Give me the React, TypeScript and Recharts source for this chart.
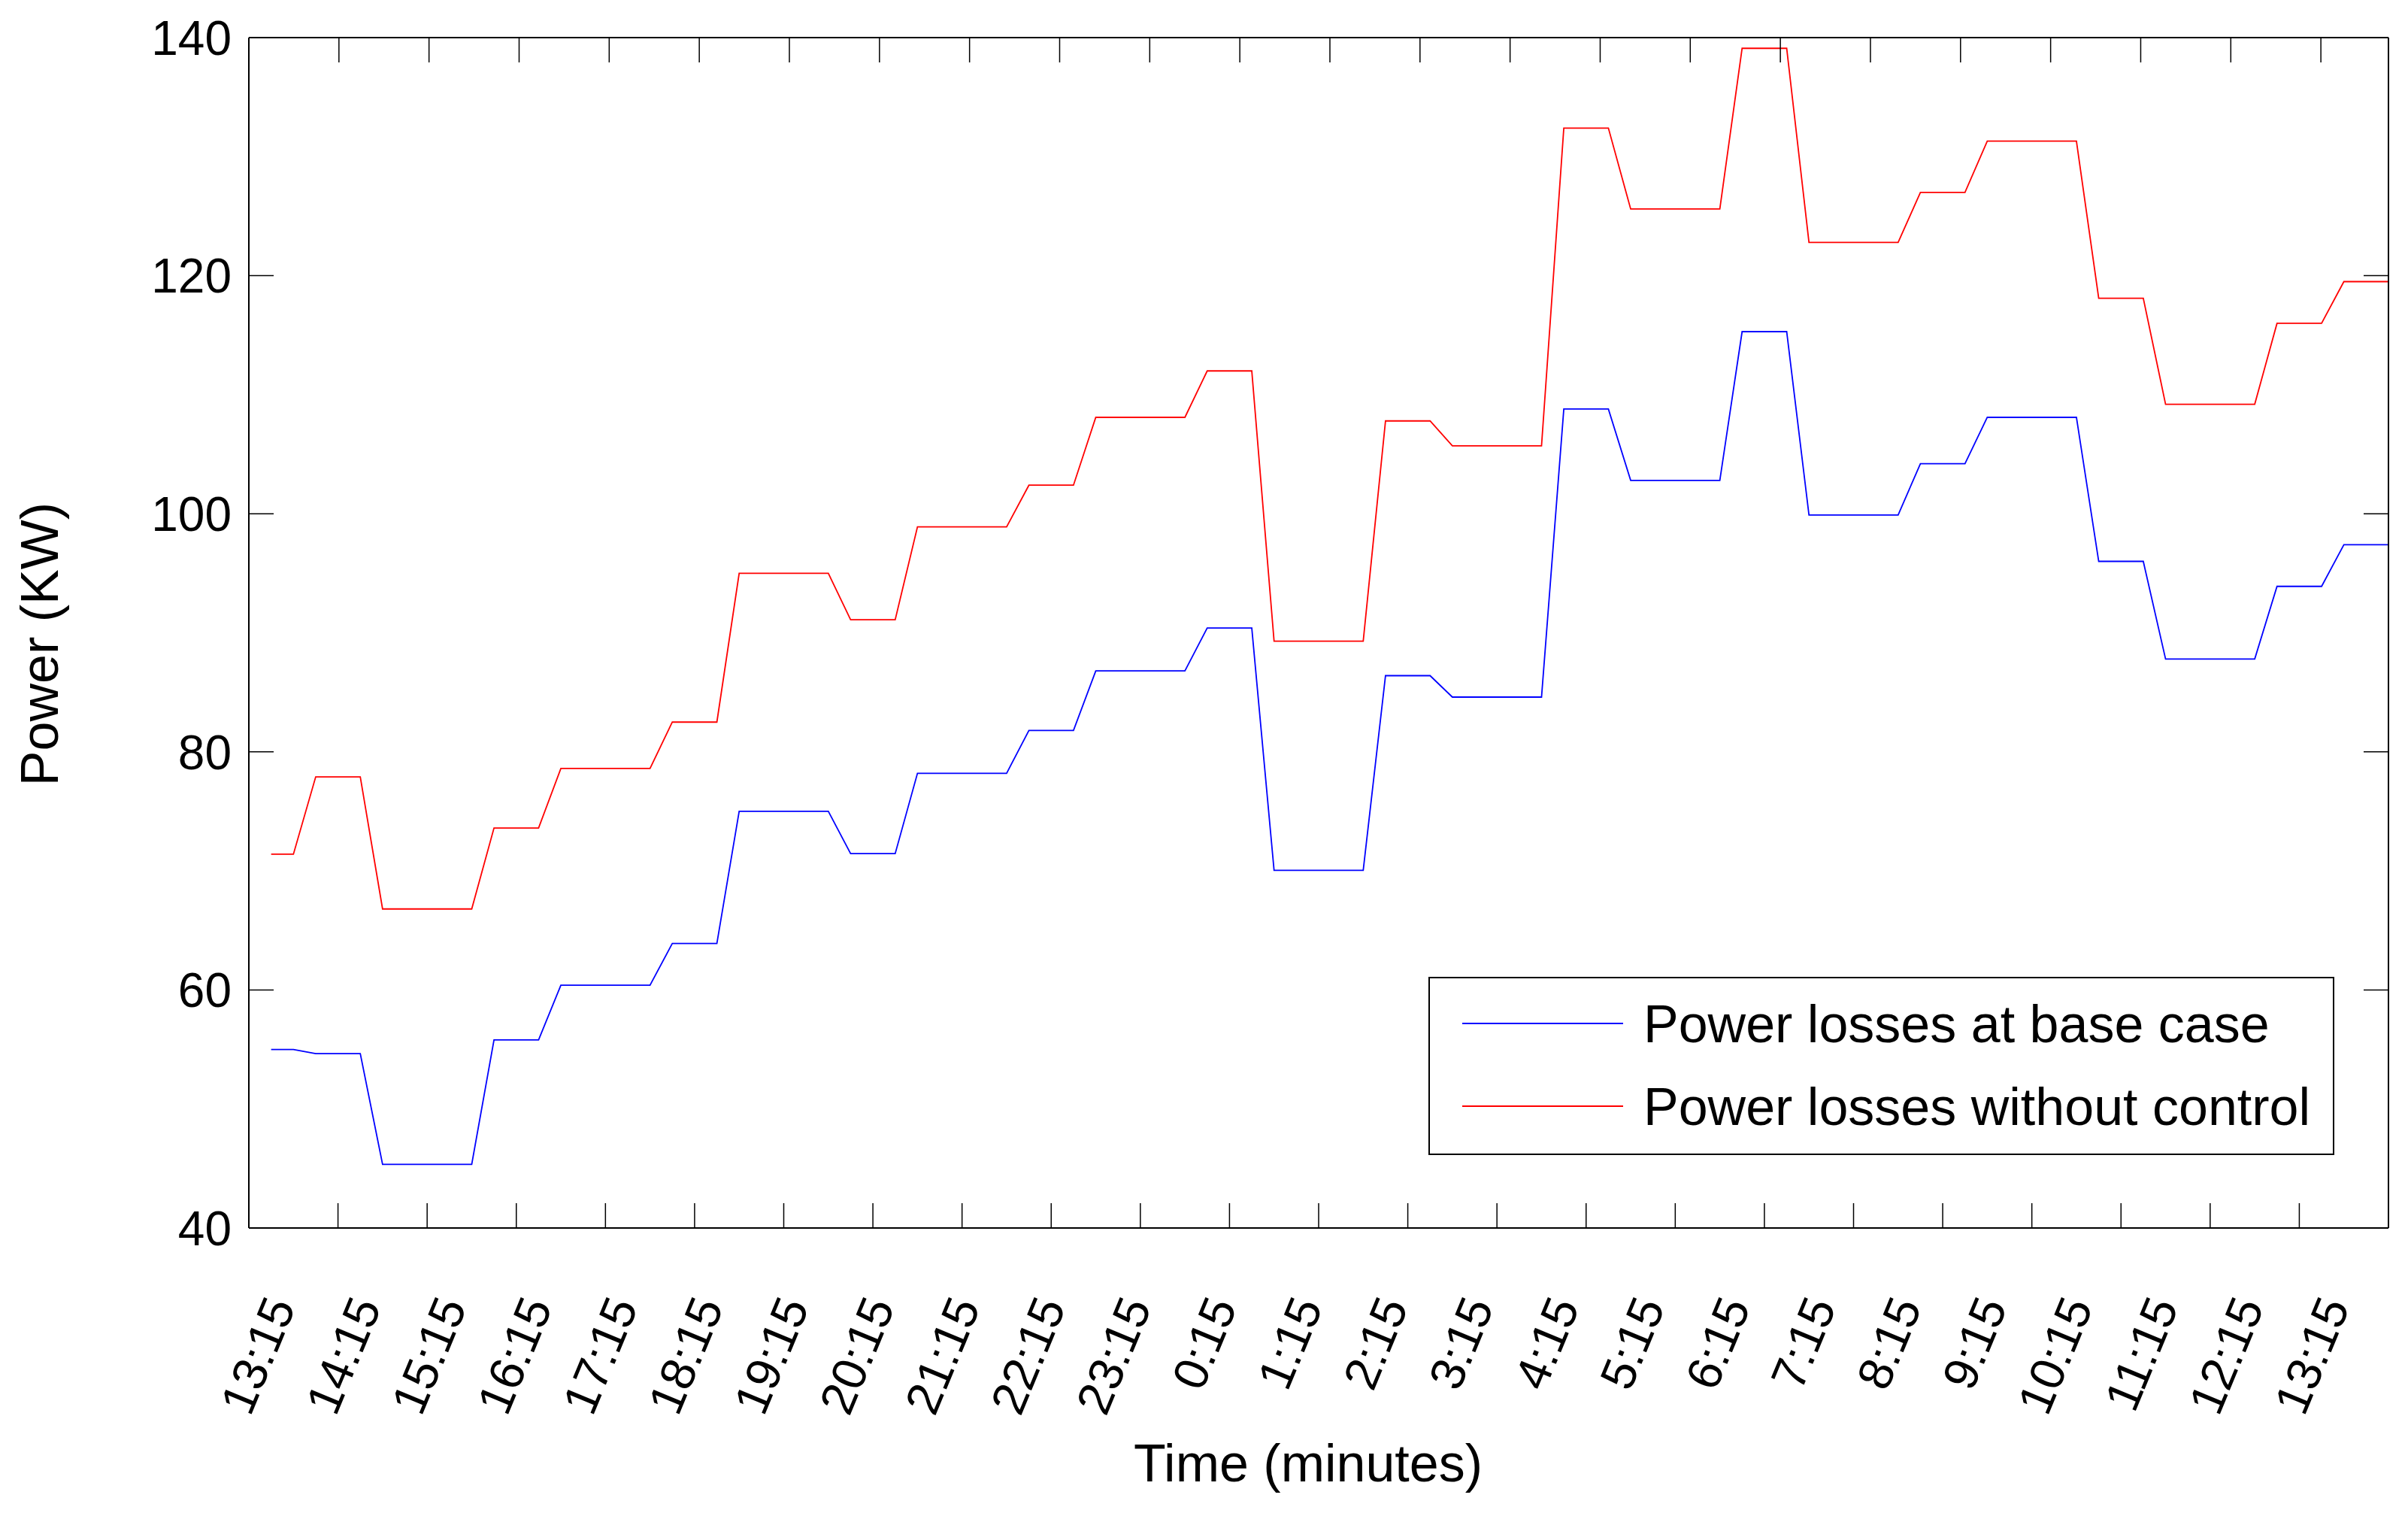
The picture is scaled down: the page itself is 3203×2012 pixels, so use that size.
import React from 'react';
import { LineChart, Line, XAxis, YAxis, Legend } from 'recharts';

// ---- data ----
const timeLabels = [
  '13:15', '14:15', '15:15', '16:15', '17:15', '18:15', '19:15', '20:15', '21:15',
  '22:15', '23:15', '0:15', '1:15', '2:15', '3:15', '4:15', '5:15', '6:15', '7:15',
  '8:15', '9:15', '10:15', '11:15', '12:15', '13:15',
];

// 15-minute sample index (1..96)
const timeIndex = Array.from({ length: 96 }, (_, k) => k + 1);

const baseCase = [
  55.0, 55.0,
  54.65, 54.65, 54.65,
  45.35, 45.35, 45.35, 45.35, 45.35,
  55.8, 55.8, 55.8,
  60.4, 60.4, 60.4, 60.4, 60.4,
  63.9, 63.9, 63.9,
  75.0, 75.0, 75.0, 75.0, 75.0,
  71.45, 71.45, 71.45,
  78.2, 78.2, 78.2, 78.2, 78.2,
  81.8, 81.8, 81.8,
  86.8, 86.8, 86.8, 86.8, 86.8,
  90.4, 90.4, 90.4,
  70.05, 70.05, 70.05, 70.05, 70.05,
  86.4, 86.4, 86.4,
  84.6, 84.6, 84.6, 84.6, 84.6,
  108.8, 108.8, 108.8,
  102.8, 102.8, 102.8, 102.8, 102.8,
  115.3, 115.3, 115.3,
  99.9, 99.9, 99.9, 99.9, 99.9,
  104.2, 104.2, 104.2,
  108.1, 108.1, 108.1, 108.1, 108.1,
  96.0, 96.0, 96.0,
  87.8, 87.8, 87.8, 87.8, 87.8,
  93.9, 93.9, 93.9,
  97.4, 97.4, 97.4,
];

const withoutControl = [
  71.4, 71.4,
  77.9, 77.9, 77.9,
  66.8, 66.8, 66.8, 66.8, 66.8,
  73.6, 73.6, 73.6,
  78.6, 78.6, 78.6, 78.6, 78.6,
  82.5, 82.5, 82.5,
  95.0, 95.0, 95.0, 95.0, 95.0,
  91.1, 91.1, 91.1,
  98.9, 98.9, 98.9, 98.9, 98.9,
  102.4, 102.4, 102.4,
  108.1, 108.1, 108.1, 108.1, 108.1,
  112.0, 112.0, 112.0,
  89.3, 89.3, 89.3, 89.3, 89.3,
  107.8, 107.8, 107.8,
  105.7, 105.7, 105.7, 105.7, 105.7,
  132.4, 132.4, 132.4,
  125.6, 125.6, 125.6, 125.6, 125.6,
  139.1, 139.1, 139.1,
  122.8, 122.8, 122.8, 122.8, 122.8,
  127.0, 127.0, 127.0,
  131.3, 131.3, 131.3, 131.3, 131.3,
  118.1, 118.1, 118.1,
  109.2, 109.2, 109.2, 109.2, 109.2,
  116.0, 116.0, 116.0,
  119.5, 119.5, 119.5,
];

const powerTicks = [40, 60, 80, 100, 120, 140];
const tickMarks = [4, 8, 12, 16, 20, 24, 28, 32, 36, 40, 44, 48, 52, 56, 60, 64, 68, 72, 76, 80, 84, 88, 92];

const seriesNames = ['Power losses at base case', 'Power losses without control'];

// ---- derived table ----
const xDomain: [number, number] = [0, 96];
const data = timeIndex.map((t, k) => ({ t, base: baseCase[k], noControl: withoutControl[k] }));
const labelPositions = timeLabels.map((_, k) => ((k + 0.5) * xDomain[1]) / timeLabels.length);
const near = (a: number, b: number) => Math.abs(a - b) < 1e-6;
const bottomTicks = Array.from(new Set([...tickMarks, ...labelPositions].map((v) => Math.round(v * 1e6) / 1e6))).sort(
  (a, b) => a - b,
);

const FONT = '"Liberation Sans", Arial, Helvetica, sans-serif';
const W = 3203;
const H = 2012;
const TICK_LEN = 33;

const NoTick = () => <g />;

function BottomTick(props: any) {
  const { x, y, payload } = props;
  const v = payload.value;
  const isMark = tickMarks.some((m) => near(m, v));
  const li = labelPositions.findIndex((p) => near(p, v));
  const ax = x + 6;
  const ty = y + 104;
  return (
    <g>
      {isMark && <line x1={x} x2={x} y1={y} y2={y - TICK_LEN} stroke="#000" strokeWidth={1.5} />}
      {li >= 0 && (
        <text
          x={ax}
          y={ty}
          transform={`rotate(-67.5 ${ax} ${ty})`}
          textAnchor="end"
          fontSize={64}
          fill="#000"
          fontFamily={FONT}
        >
          {timeLabels[li]}
        </text>
      )}
    </g>
  );
}

function PowerLabel(props: any) {
  const vb = props.viewBox || { x: 0, y: 0, width: 0, height: 0 };
  const cx = vb.x + 77;
  const cy = vb.y + vb.height / 2 + 15;
  return (
    <text x={cx} y={cy} transform={`rotate(-90 ${cx} ${cy})`} textAnchor="middle" fontSize={70} fill="#000" fontFamily={FONT}>
      Power (KW)
    </text>
  );
}

function TimeLabel(props: any) {
  const vb = props.viewBox || { x: 0, y: 0, width: 0, height: 0 };
  const cx = vb.x + vb.width / 2 - 14;
  const cy = vb.y + 337;
  return (
    <text x={cx} y={cy} textAnchor="middle" fontSize={70} fill="#000" fontFamily={FONT}>
      Time (minutes)
    </text>
  );
}

function LegendBox(props: any) {
  const payload = props.payload || [];
  return (
    <svg width={1205} height={237} style={{ display: 'block' }}>
      <rect x={1} y={1} width={1203} height={235} fill="#fff" stroke="#000" strokeWidth={2} />
      {payload.map((item: any, k: number) => {
        const yy = 62 + k * 110;
        return (
          <g key={k}>
            <line x1={45} x2={259} y1={yy} y2={yy} stroke={item.color} strokeWidth={2} />
            <text x={286} y={yy} dy="0.355em" fontSize={70} fill="#000" fontFamily={FONT}>
              {item.value}
            </text>
          </g>
        );
      })}
    </svg>
  );
}

const axisLineStyle = { stroke: '#000', strokeWidth: 2 };
const tickLineStyle = { stroke: '#000', strokeWidth: 1.5 };

export default function App() {
  return (
    <div style={{ position: 'absolute', left: 0, top: 0, width: W, height: H, background: '#fff', fontFamily: FONT }}>
      <LineChart width={W} height={H} data={data} margin={{ top: 50, right: 26, bottom: 0, left: 0 }}>
        <XAxis
          xAxisId="bottom"
          dataKey="t"
          type="number"
          domain={xDomain}
          ticks={bottomTicks}
          interval={0}
          orientation="bottom"
          height={379}
          tickSize={0}
          tickMargin={0}
          tickLine={false}
          tick={BottomTick}
          stroke="#000"
          axisLine={axisLineStyle}
          label={{ content: TimeLabel }}
          allowDataOverflow
        />
        <XAxis
          xAxisId="top"
          type="number"
          domain={xDomain}
          ticks={tickMarks}
          interval={0}
          orientation="top"
          mirror
          height={1}
          tickSize={TICK_LEN}
          tick={NoTick}
          stroke="#000"
          axisLine={axisLineStyle}
          tickLine={tickLineStyle}
          allowDataOverflow
        />
        <YAxis
          yAxisId="left"
          type="number"
          domain={[40, 140]}
          ticks={powerTicks}
          interval={0}
          width={331}
          tickSize={-TICK_LEN}
          tickMargin={56}
          stroke="#000"
          axisLine={axisLineStyle}
          tickLine={tickLineStyle}
          tick={{ fill: '#000', fontSize: 64, fontFamily: FONT }}
          label={{ content: PowerLabel }}
          allowDataOverflow
        />
        <YAxis
          yAxisId="right"
          type="number"
          domain={[40, 140]}
          ticks={powerTicks}
          interval={0}
          orientation="right"
          mirror
          width={1}
          tickSize={TICK_LEN}
          tick={NoTick}
          stroke="#000"
          axisLine={axisLineStyle}
          tickLine={tickLineStyle}
          allowDataOverflow
        />
        <Legend
          layout="horizontal"
          verticalAlign="middle"
          align="center"
          content={LegendBox}
          wrapperStyle={{ left: 1900, top: 1299, width: 1205, height: 237 }}
        />
        <Line
          xAxisId="bottom"
          yAxisId="left"
          type="linear"
          dataKey="base"
          name={seriesNames[0]}
          stroke="#0000FF"
          strokeWidth={1.8}
          dot={false}
          activeDot={false}
          isAnimationActive={false}
        />
        <Line
          xAxisId="bottom"
          yAxisId="left"
          type="linear"
          dataKey="noControl"
          name={seriesNames[1]}
          stroke="#FF0000"
          strokeWidth={1.8}
          dot={false}
          activeDot={false}
          isAnimationActive={false}
        />
      </LineChart>
    </div>
  );
}
